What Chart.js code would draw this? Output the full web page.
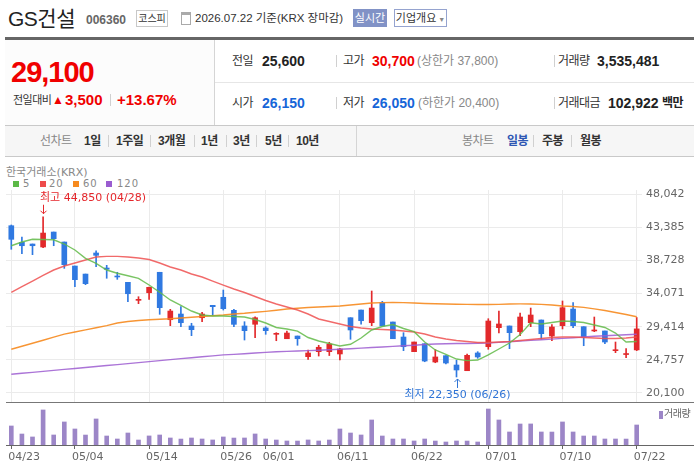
<!DOCTYPE html>
<html lang="ko">
<head>
<meta charset="utf-8">
<script src="https://cdn.jsdelivr.net/npm/chart.js@4.4.1/dist/chart.umd.min.js"></script>
<style>
  html, body { margin: 0; padding: 0; background: #fff; }
  #wrap { position: relative; width: 694px; height: 472px; overflow: hidden;
          font-family: "Liberation Sans", "Noto Sans CJK KR", sans-serif; color: #333; }
  .a { position: absolute; white-space: nowrap; }
  .sep { position: absolute; width: 1px; background: #d0d0d0; }
  .lbl { font-size: 12px; letter-spacing: -0.5px; color: #333; }
  .val { font-size: 14px; font-weight: bold; color: #222; }
  .nav { font-size: 12px; font-weight: bold; color: #333; letter-spacing: -0.5px; }
  .chartTxt { font-family: "DejaVu Sans", "Noto Sans CJK KR", sans-serif; }
  canvas { position: absolute; left: 0; }
</style>
</head>
<body>
<div id="wrap">
  <!-- title row -->
  <div class="a" style="left:8px;top:6px;font-size:21px;line-height:26px;color:#222;letter-spacing:-0.5px;">GS건설</div>
  <div class="a" style="left:86px;top:12px;font-size:12px;line-height:16px;font-weight:bold;color:#666;">006360</div>
  <div class="a" style="left:136px;top:10px;width:30px;height:15px;border:1px solid #c8c8c8;font-size:10px;line-height:15px;text-align:center;color:#333;">코스피</div>
  <div class="a" style="left:181px;top:12px;width:8px;height:9px;border:1px solid #aaa;border-top:3px solid #aaa;"></div>
  <div class="a" style="left:195px;top:10px;font-size:11.5px;line-height:16px;color:#333;">2026.07.22 기준(KRX 장마감)</div>
  <div class="a" style="left:353px;top:9px;width:34px;height:18px;background:#8192c6;color:#fff;font-size:11px;line-height:18px;text-align:center;">실시간</div>
  <div class="a" style="left:394px;top:9px;width:51px;height:16px;border:1px solid #95a3cf;color:#333;font-size:11px;line-height:16px;text-align:center;">기업개요<span style="font-size:7px;color:#888;"> ▼</span></div>
  <div class="a" style="left:5px;top:37px;width:689px;height:3px;background:#666;"></div>

  <!-- price summary -->
  <div class="a" style="left:5px;top:40px;width:209px;height:85px;background:#fcfcfc;border-right:1px solid #d5d5d5;"></div>
  <div class="a" style="left:11px;top:55px;font-size:29px;line-height:34px;font-weight:bold;color:#f00000;letter-spacing:-1px;">29,100</div>
  <div class="a" style="left:13px;top:92px;font-size:11px;line-height:16px;color:#333;letter-spacing:-0.5px;">전일대비</div>
  <div class="a" style="left:52px;top:91px;font-size:12px;line-height:18px;color:#f00000;">▲</div>
  <div class="a" style="left:65px;top:91px;font-size:15px;line-height:18px;font-weight:bold;color:#f00000;">3,500</div>
  <div class="sep" style="left:110px;top:94px;height:12px;"></div>
  <div class="a" style="left:117px;top:91px;font-size:15px;line-height:18px;font-weight:bold;color:#f00000;">+13.67%</div>

  <div class="a" style="left:215px;top:82px;width:479px;height:1px;background:#e6e6e6;"></div>
  <div class="a lbl" style="left:232px;top:53px;line-height:16px;">전일</div>
  <div class="a val" style="left:262px;top:52px;line-height:18px;">25,600</div>
  <div class="sep" style="left:336px;top:55px;height:12px;"></div>
  <div class="a lbl" style="left:343px;top:53px;line-height:16px;">고가</div>
  <div class="a val" style="left:372px;top:52px;line-height:18px;color:#f00000;">30,700</div>
  <div class="a" style="left:417px;top:53px;line-height:16px;font-size:12px;color:#888;">(상한가 37,800)</div>
  <div class="sep" style="left:554px;top:55px;height:12px;"></div>
  <div class="a lbl" style="left:558px;top:53px;line-height:16px;">거래량</div>
  <div class="a val" style="left:597px;top:52px;line-height:18px;">3,535,481</div>

  <div class="a lbl" style="left:232px;top:95px;line-height:16px;">시가</div>
  <div class="a val" style="left:262px;top:94px;line-height:18px;color:#1565d8;">26,150</div>
  <div class="sep" style="left:336px;top:97px;height:12px;"></div>
  <div class="a lbl" style="left:343px;top:95px;line-height:16px;">저가</div>
  <div class="a val" style="left:372px;top:94px;line-height:18px;color:#1565d8;">26,050</div>
  <div class="a" style="left:418px;top:95px;line-height:16px;font-size:12px;color:#888;">(하한가 20,400)</div>
  <div class="sep" style="left:554px;top:97px;height:12px;"></div>
  <div class="a lbl" style="left:558px;top:95px;line-height:16px;">거래대금</div>
  <div class="a val" style="left:608px;top:94px;line-height:18px;">102,922</div>
  <div class="a" style="left:662px;top:95px;line-height:16px;font-size:12px;font-weight:bold;color:#222;letter-spacing:-0.5px;">백만</div>

  <!-- period nav -->
  <div class="a" style="left:5px;top:125px;width:689px;height:30px;background:#f6f6f6;border-top:1px solid #c9c9c9;border-bottom:1px solid #c9c9c9;"></div>
  <div class="sep" style="left:356px;top:126px;height:30px;background:#d5d5d5;"></div>
  <div class="a nav" style="left:40px;top:133px;line-height:16px;color:#888;font-weight:normal;">선차트</div>
  <div class="a nav" style="left:84px;top:133px;line-height:16px;">1일</div>
  <div class="sep" style="left:108px;top:135px;height:12px;"></div>
  <div class="a nav" style="left:116px;top:133px;line-height:16px;">1주일</div>
  <div class="sep" style="left:150px;top:135px;height:12px;"></div>
  <div class="a nav" style="left:158px;top:133px;line-height:16px;">3개월</div>
  <div class="sep" style="left:194px;top:135px;height:12px;"></div>
  <div class="a nav" style="left:201px;top:133px;line-height:16px;">1년</div>
  <div class="sep" style="left:226px;top:135px;height:12px;"></div>
  <div class="a nav" style="left:233px;top:133px;line-height:16px;">3년</div>
  <div class="sep" style="left:256px;top:135px;height:12px;"></div>
  <div class="a nav" style="left:265px;top:133px;line-height:16px;">5년</div>
  <div class="sep" style="left:288px;top:135px;height:12px;"></div>
  <div class="a nav" style="left:296px;top:133px;line-height:16px;">10년</div>
  <div class="a nav" style="left:462px;top:133px;line-height:16px;color:#888;font-weight:normal;">봉차트</div>
  <div class="a nav" style="left:507px;top:133px;line-height:16px;color:#2e57b3;">일봉</div>
  <div class="sep" style="left:533px;top:135px;height:12px;"></div>
  <div class="a nav" style="left:542px;top:133px;line-height:16px;">주봉</div>
  <div class="sep" style="left:571px;top:135px;height:12px;"></div>
  <div class="a nav" style="left:580px;top:133px;line-height:16px;">월봉</div>

  <!-- chart legends -->
  <div class="a chartTxt" style="left:6px;top:166px;font-size:11px;line-height:14px;color:#888;">한국거래소(KRX)</div>
  <div class="a" style="left:13px;top:181px;width:6px;height:6px;background:#5cb947;"></div>
  <div class="a chartTxt" style="left:23px;top:177px;font-size:10px;line-height:14px;color:#888;letter-spacing:1px;">5</div>
  <div class="a" style="left:40px;top:181px;width:6px;height:6px;background:#ee4b4b;"></div>
  <div class="a chartTxt" style="left:49px;top:177px;font-size:10px;line-height:14px;color:#888;letter-spacing:1px;">20</div>
  <div class="a" style="left:73px;top:181px;width:6px;height:6px;background:#f68a1e;"></div>
  <div class="a chartTxt" style="left:83px;top:177px;font-size:10px;line-height:14px;color:#888;letter-spacing:1px;">60</div>
  <div class="a" style="left:106px;top:181px;width:6px;height:6px;background:#9a5cd0;"></div>
  <div class="a chartTxt" style="left:117px;top:177px;font-size:10px;line-height:14px;color:#888;letter-spacing:1px;">120</div>

  <canvas id="priceChart" width="694" height="226" style="top:176px;"></canvas>
  <canvas id="volChart" width="694" height="70" style="top:402px;"></canvas>

  <div class="a" style="left:6px;top:402px;width:688px;height:1px;background:#777;"></div>
  <div class="a" style="left:6px;top:445px;width:688px;height:1px;background:#666;"></div>
  <div class="a" style="left:659px;top:411px;width:4px;height:8px;background:#9c86c7;"></div>
  <div class="a chartTxt" style="left:664px;top:407px;font-size:10px;line-height:14px;color:#666;letter-spacing:-0.5px;">거래량</div>
</div>

<script>
const dates = ['04/23','04/24','04/27','04/28','04/29','04/30','05/04','05/06','05/07','05/08',
               '05/11','05/12','05/13','05/14','05/15','05/18','05/19','05/20','05/21','05/22',
               '05/26','05/27','05/28','05/29','06/01','06/02','06/04','06/05','06/08','06/09',
               '06/10','06/11','06/12','06/15','06/16','06/17','06/18','06/19','06/22','06/23',
               '06/24','06/25','06/26','06/29','06/30','07/01','07/02','07/03','07/06','07/07',
               '07/08','07/09','07/10','07/13','07/14','07/15','07/16','07/20','07/21','07/22'];

const tickDates = ['04/23','05/04','05/14','05/26','06/01','06/11','06/22','07/01','07/10','07/22'];

const opens  = [43590,41260,41020,40600,42700,41300,37930,36800,39760,37650,
                36490,35640,33110,34180,37050,30390,31190,29510,30670,32410,
                33540,31710,29510,29750,29230,28340,27720,28100,25200,25900,
                25900,25580,30670,31750,29970,32780,30070,27960,25900,27020,
                24450,25340,24030,23230,25720,26600,29270,29510,28710,29970,
                30350,28100,29550,31890,29410,28810,28810,26040,25500,26150];
const highs  = [43690,42000,41020,44850,42700,41300,37930,36800,40080,38030,
                37050,35640,33620,34960,37050,31850,32220,29890,31430,32410,
                34560,31850,30110,30810,29410,28570,28800,28100,26140,26800,
                27220,26380,30670,31750,34420,32970,30070,28570,27260,27020,
                26180,25340,24690,25580,25900,30530,31610,29510,31330,32030,
                30350,29690,33020,32780,29410,30770,28810,27260,26320,30700];
const lows   = [40280,39660,39520,40500,40780,37600,35020,35310,37830,36210,
                36060,32920,32640,33250,31150,29550,29410,28150,30110,31050,
                31750,29410,27540,27860,28340,27440,27720,26800,24830,25290,
                25360,24730,27640,29750,29550,29510,27720,26040,25900,24490,
                24350,24170,22350,23230,24970,26240,28520,26320,28150,29410,
                27680,27440,29090,29270,26740,28710,27020,25760,25060,26050];
const closes = [41680,40780,40780,42560,41770,38120,36010,35450,39430,37470,
                36390,34040,33250,34940,32080,31610,29970,28990,31190,32220,
                31940,29740,28850,30670,28850,28440,28520,27720,25720,26520,
                26980,26280,28950,30250,32030,29510,27720,26600,27260,24590,
                25160,24310,23330,25390,25160,30210,29790,28570,30770,31050,
                28430,29370,32080,29550,27960,28950,27260,26140,25600,29100];

const ma5   = [40780,41300,41680,41650,41620,41020,40180,39010,38310,37370,
               36910,36570,36200,35260,34240,33160,32390,31610,31050,30910,
               30910,30840,30770,30420,29930,29300,29090,28800,27890,27400,
               27050,26700,26940,27820,28950,29440,29720,29160,28710,27260,
               26140,25510,24870,24640,24730,25440,26280,27120,28300,29950,
               29790,30000,30210,30140,30000,29650,29300,28520,27260,27330];
const ma20  = [34240,35050,35820,36600,37370,37930,38350,38770,39190,39290,
               39290,39190,39050,38840,38350,37790,37370,36810,36390,35820,
               35260,34700,34210,33650,33090,32600,32180,31750,31190,30490,
               30140,29790,29440,29230,29090,29020,28950,28810,28660,28380,
               27960,27680,27470,27330,27190,27190,27260,27330,27470,27610,
               27750,27890,27960,27960,27890,27820,27750,27750,27820,27960];
const ma60  = [26240,26660,27090,27510,27950,28370,28670,28970,29270,29560,
               29930,30140,30280,30380,30450,30520,30630,30740,30840,30950,
               31050,31190,31290,31430,31560,31710,31890,31990,32110,32180,
               32250,32320,32460,32600,32740,32790,32820,32790,32740,32670,
               32630,32600,32570,32550,32530,32530,32550,32600,32610,32600,
               32550,32460,32320,32250,32130,31920,31680,31400,31120,30810];
const ma120 = [22730,22870,22990,23130,23270,23410,23540,23680,23820,23960,
               24090,24230,24370,24500,24640,24780,24920,25040,25180,25320,
               25450,25530,25620,25720,25800,25890,25940,26000,26050,26110,
               26170,26240,26320,26400,26480,26560,26640,26730,26810,26900,
               26980,27010,27040,27060,27090,27120,27210,27300,27390,27490,
               27570,27670,27770,27860,27960,28060,28130,28200,28270,28340];

const volumes = [3360000,1940000,1420000,6190000,1770000,4070000,2830000,1760000,4600000,1590000,
                 1060000,2120000, 880000,1600000,1770000,1240000,1050000,1240000,1060000, 890000,
                 1420000,1230000,1240000,1950000,1060000, 880000, 710000, 700000, 890000, 710000,
                  880000,2830000,2120000,1770000,4420000,1590000,1060000,1060000, 710000,1060000,
                  700000, 530000, 710000, 700000, 530000,6360000,4420000,2300000,3710000,3720000,
                 2300000,2290000,4070000,2300000,1590000,1590000,1060000,1060000,1050000,3535481];

const priceTicks = [20100,24757,29414,34071,38728,43385,48042];

const RED = '#e2292b', BLUE = '#3079e1';
const candleColor = ctx => closes[ctx.dataIndex] >= opens[ctx.dataIndex] ? RED : BLUE;
const fmt = v => v.toLocaleString('en-US');
const tickIdx = tickDates.map(d => dates.indexOf(d));

Chart.defaults.font.family = '"DejaVu Sans", "Noto Sans CJK KR", sans-serif';
Chart.defaults.animation = false;

const hiIdx = highs.indexOf(Math.max(...highs));
const loIdx = lows.indexOf(Math.min(...lows));

// 최고/최저 표시
const hiLoMarks = {
  id: 'hiLoMarks',
  afterDatasetsDraw(chart) {
    const {ctx, scales: {x, y}} = chart;
    ctx.save();
    ctx.lineWidth = 1;
    ctx.font = '11px "DejaVu Sans", "Noto Sans CJK KR"';
    ctx.textBaseline = 'middle';

    const hx = Math.round(x.getPixelForValue(hiIdx)) + 0.5;
    const hy = y.getPixelForValue(highs[hiIdx]);
    ctx.strokeStyle = ctx.fillStyle = '#e5262b';
    ctx.beginPath();
    ctx.moveTo(hx, hy - 12); ctx.lineTo(hx, hy - 3);
    ctx.moveTo(hx - 3, hy - 6); ctx.lineTo(hx, hy - 3); ctx.lineTo(hx + 3, hy - 6);
    ctx.stroke();
    ctx.textAlign = 'left';
    ctx.fillText('최고 ' + fmt(highs[hiIdx]) + ' (' + dates[hiIdx] + ')', hx - 3.5, hy - 19);

    const lx = Math.round(x.getPixelForValue(loIdx)) + 0.5;
    const ly = y.getPixelForValue(lows[loIdx]);
    ctx.strokeStyle = ctx.fillStyle = '#2f74d6';
    ctx.beginPath();
    ctx.moveTo(lx, ly + 11); ctx.lineTo(lx, ly + 2);
    ctx.moveTo(lx - 3, ly + 5); ctx.lineTo(lx, ly + 2); ctx.lineTo(lx + 3, ly + 5);
    ctx.stroke();
    ctx.textAlign = 'center';
    ctx.fillText('최저 ' + fmt(lows[loIdx]) + ' (' + dates[loIdx] + ')', lx, ly + 18);
    ctx.restore();
  }
};

const maLine = (label, data, color) => ({
  type: 'line', label, data, borderColor: color, borderWidth: 1.4,
  pointRadius: 0, tension: 0, fill: false, order: 0
});

new Chart(document.getElementById('priceChart'), {
  type: 'bar',
  data: {
    labels: dates,
    datasets: [
      maLine('5', ma5, 'rgba(98,186,72,0.85)'),
      maLine('20', ma20, 'rgba(238,80,80,0.85)'),
      maLine('60', ma60, 'rgba(246,138,30,0.9)'),
      maLine('120', ma120, 'rgba(156,92,208,0.85)'),
      { label: 'body', data: opens.map((o, i) => [o, closes[i]]), backgroundColor: candleColor,
        barThickness: 5, minBarLength: 1, grouped: false, borderWidth: 0, order: 1 },
      { label: 'wick', data: lows.map((l, i) => [l, highs[i]]), backgroundColor: candleColor,
        barThickness: 1, grouped: false, borderWidth: 0, order: 2 }
    ]
  },
  options: {
    responsive: false,
    layout: { padding: { left: 6, right: 0, top: 14, bottom: 0 } },
    plugins: { legend: { display: false }, tooltip: { enabled: false } },
    scales: {
      x: {
        offset: true,
        grid: { offset: false, color: '#ebebeb', drawTicks: false },
        border: { display: false },
        ticks: { display: false },
        afterBuildTicks: s => { s.ticks = s.ticks.filter(t => tickIdx.includes(t.value)); },
        afterFit: s => { s.height = 0; s.paddingLeft = 0; s.paddingRight = 0; }
      },
      y: {
        position: 'right',
        min: 18836, max: 48604,
        grid: { color: '#ebebeb', drawTicks: false },
        border: { display: false },
        ticks: { padding: 4, color: '#666', font: { size: 11 }, callback: v => fmt(v) },
        afterBuildTicks: s => { s.ticks = priceTicks.map(v => ({ value: v })); },
        afterFit: s => { s.width = 52; s.paddingTop = 0; s.paddingBottom = 0; }
      }
    }
  },
  plugins: [hiLoMarks]
});

new Chart(document.getElementById('volChart'), {
  type: 'bar',
  data: {
    labels: dates,
    datasets: [{ label: '거래량', data: volumes, backgroundColor: '#9c86c7', barThickness: 4 }]
  },
  options: {
    responsive: false,
    layout: { padding: { left: 6, right: 52, top: 1, bottom: 0 } },
    plugins: { legend: { display: false }, tooltip: { enabled: false } },
    scales: {
      x: {
        offset: true,
        grid: { offset: false, drawOnChartArea: false, drawTicks: true, tickLength: 4, color: '#666' },
        border: { display: false },
        ticks: { color: '#666', font: { size: 11 }, align: 'start', labelOffset: -3, padding: 2,
                 autoSkip: false, maxRotation: 0 },
        afterBuildTicks: s => { s.ticks = s.ticks.filter(t => tickIdx.includes(t.value)); },
        afterFit: s => { s.height = 27; s.paddingLeft = 0; s.paddingRight = 0; }
      },
      y: { display: false, min: 0, max: 7420000 }
    }
  }
});
</script>
</body>
</html>
